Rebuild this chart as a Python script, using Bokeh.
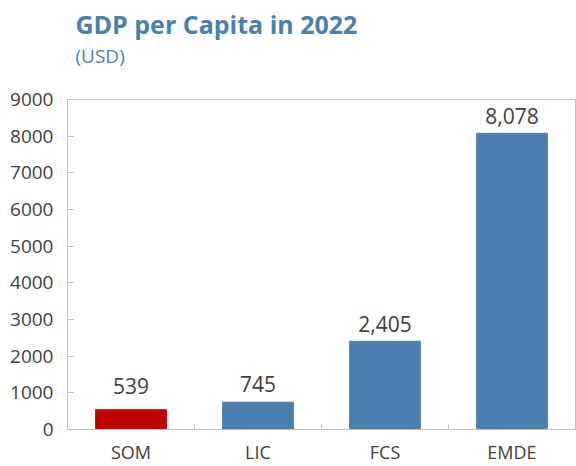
from bokeh.plotting import figure
from bokeh.models import ColumnDataSource, FixedTicker, LabelSet, Title
from bokeh.core.properties import value
from bokeh.embed import file_html
from bokeh.resources import INLINE

# GDP per capita, 2022 (USD)
categories = ["SOM", "LIC", "FCS", "EMDE"]
gdp_per_capita = [539, 745, 2405, 8078]
bar_colors = ["#C00000", "#4A7FAE", "#4A7FAE", "#4A7FAE"]
y_ticks = [0, 1000, 2000, 3000, 4000, 5000, 6000, 7000, 8000, 9000]

FONT = "Open Sans"
TEXT = "#404040"
BLUE = "#4A7FAE"
FRAME = "#BFBFBF"
# gap in px between each bar top and its value label
label_gaps = [16, 10, 9, 9]

positions = [i + 0.5 for i in range(len(categories))]
source = ColumnDataSource(dict(
    x=positions,
    value=gdp_per_capita,
    color=bar_colors,
    label=[f"{v:,}" for v in gdp_per_capita],
    gap=label_gaps,
))

p = figure(
    width=576, height=466,
    x_range=(0, len(categories)), y_range=(0, 9000),
    title=None, toolbar_location=None, output_backend="svg",
    min_border_left=67, min_border_right=1, min_border_bottom=30, min_border_top=99,
)

# heading panels, stacked upwards from the frame: blank gap, unit line, title
p.add_layout(Title(text=" ", text_font_size="1px", standoff=28), "above")
p.add_layout(Title(text="(USD)", text_font=FONT, text_font_size="19px",
                   text_font_style="normal", text_color=BLUE, align="left",
                   offset=8, standoff=0), "above")
p.add_layout(Title(text="GDP per Capita in 2022", text_font=FONT, text_font_size="25px",
                   text_font_style="bold", text_color=BLUE, align="left",
                   offset=8, standoff=0), "above")

p.vbar(x="x", top="value", width=0.557, bottom=0, color="color", source=source)

p.add_layout(LabelSet(x="x", y="value", text="label", source=source,
                      text_align="center", text_baseline="alphabetic", y_offset="gap",
                      text_font=value(FONT), text_font_size=value("21px"),
                      text_color=value(TEXT)))

# y axis
p.yaxis.ticker = FixedTicker(ticks=y_ticks)
p.yaxis.major_tick_in = 6
p.yaxis.major_tick_out = 0
p.yaxis.major_tick_line_color = FRAME
p.yaxis.minor_tick_line_color = None
p.yaxis.major_label_standoff = 14
p.yaxis.major_label_text_font = FONT
p.yaxis.major_label_text_font_size = "19px"
p.yaxis.major_label_text_color = TEXT

# x axis: labels at the bar centres, small ticks on the category boundaries
p.xaxis.ticker = FixedTicker(ticks=positions, minor_ticks=list(range(1, len(categories))))
p.xaxis.major_label_overrides = {pos: c for pos, c in zip(positions, categories)}
p.xaxis.major_tick_line_color = None
p.xaxis.minor_tick_line_color = FRAME
p.xaxis.minor_tick_in = 5
p.xaxis.minor_tick_out = 0
p.xaxis.major_label_standoff = 4
p.xaxis.major_label_text_font = FONT
p.xaxis.major_label_text_font_size = "18px"
p.xaxis.major_label_text_color = TEXT

p.xaxis.axis_line_color = FRAME
p.yaxis.axis_line_color = FRAME

p.xgrid.visible = False
p.ygrid.visible = False
p.outline_line_color = FRAME
p.background_fill_color = "white"
p.border_fill_color = "white"

open("out.html", "w").write(file_html(p, INLINE))
